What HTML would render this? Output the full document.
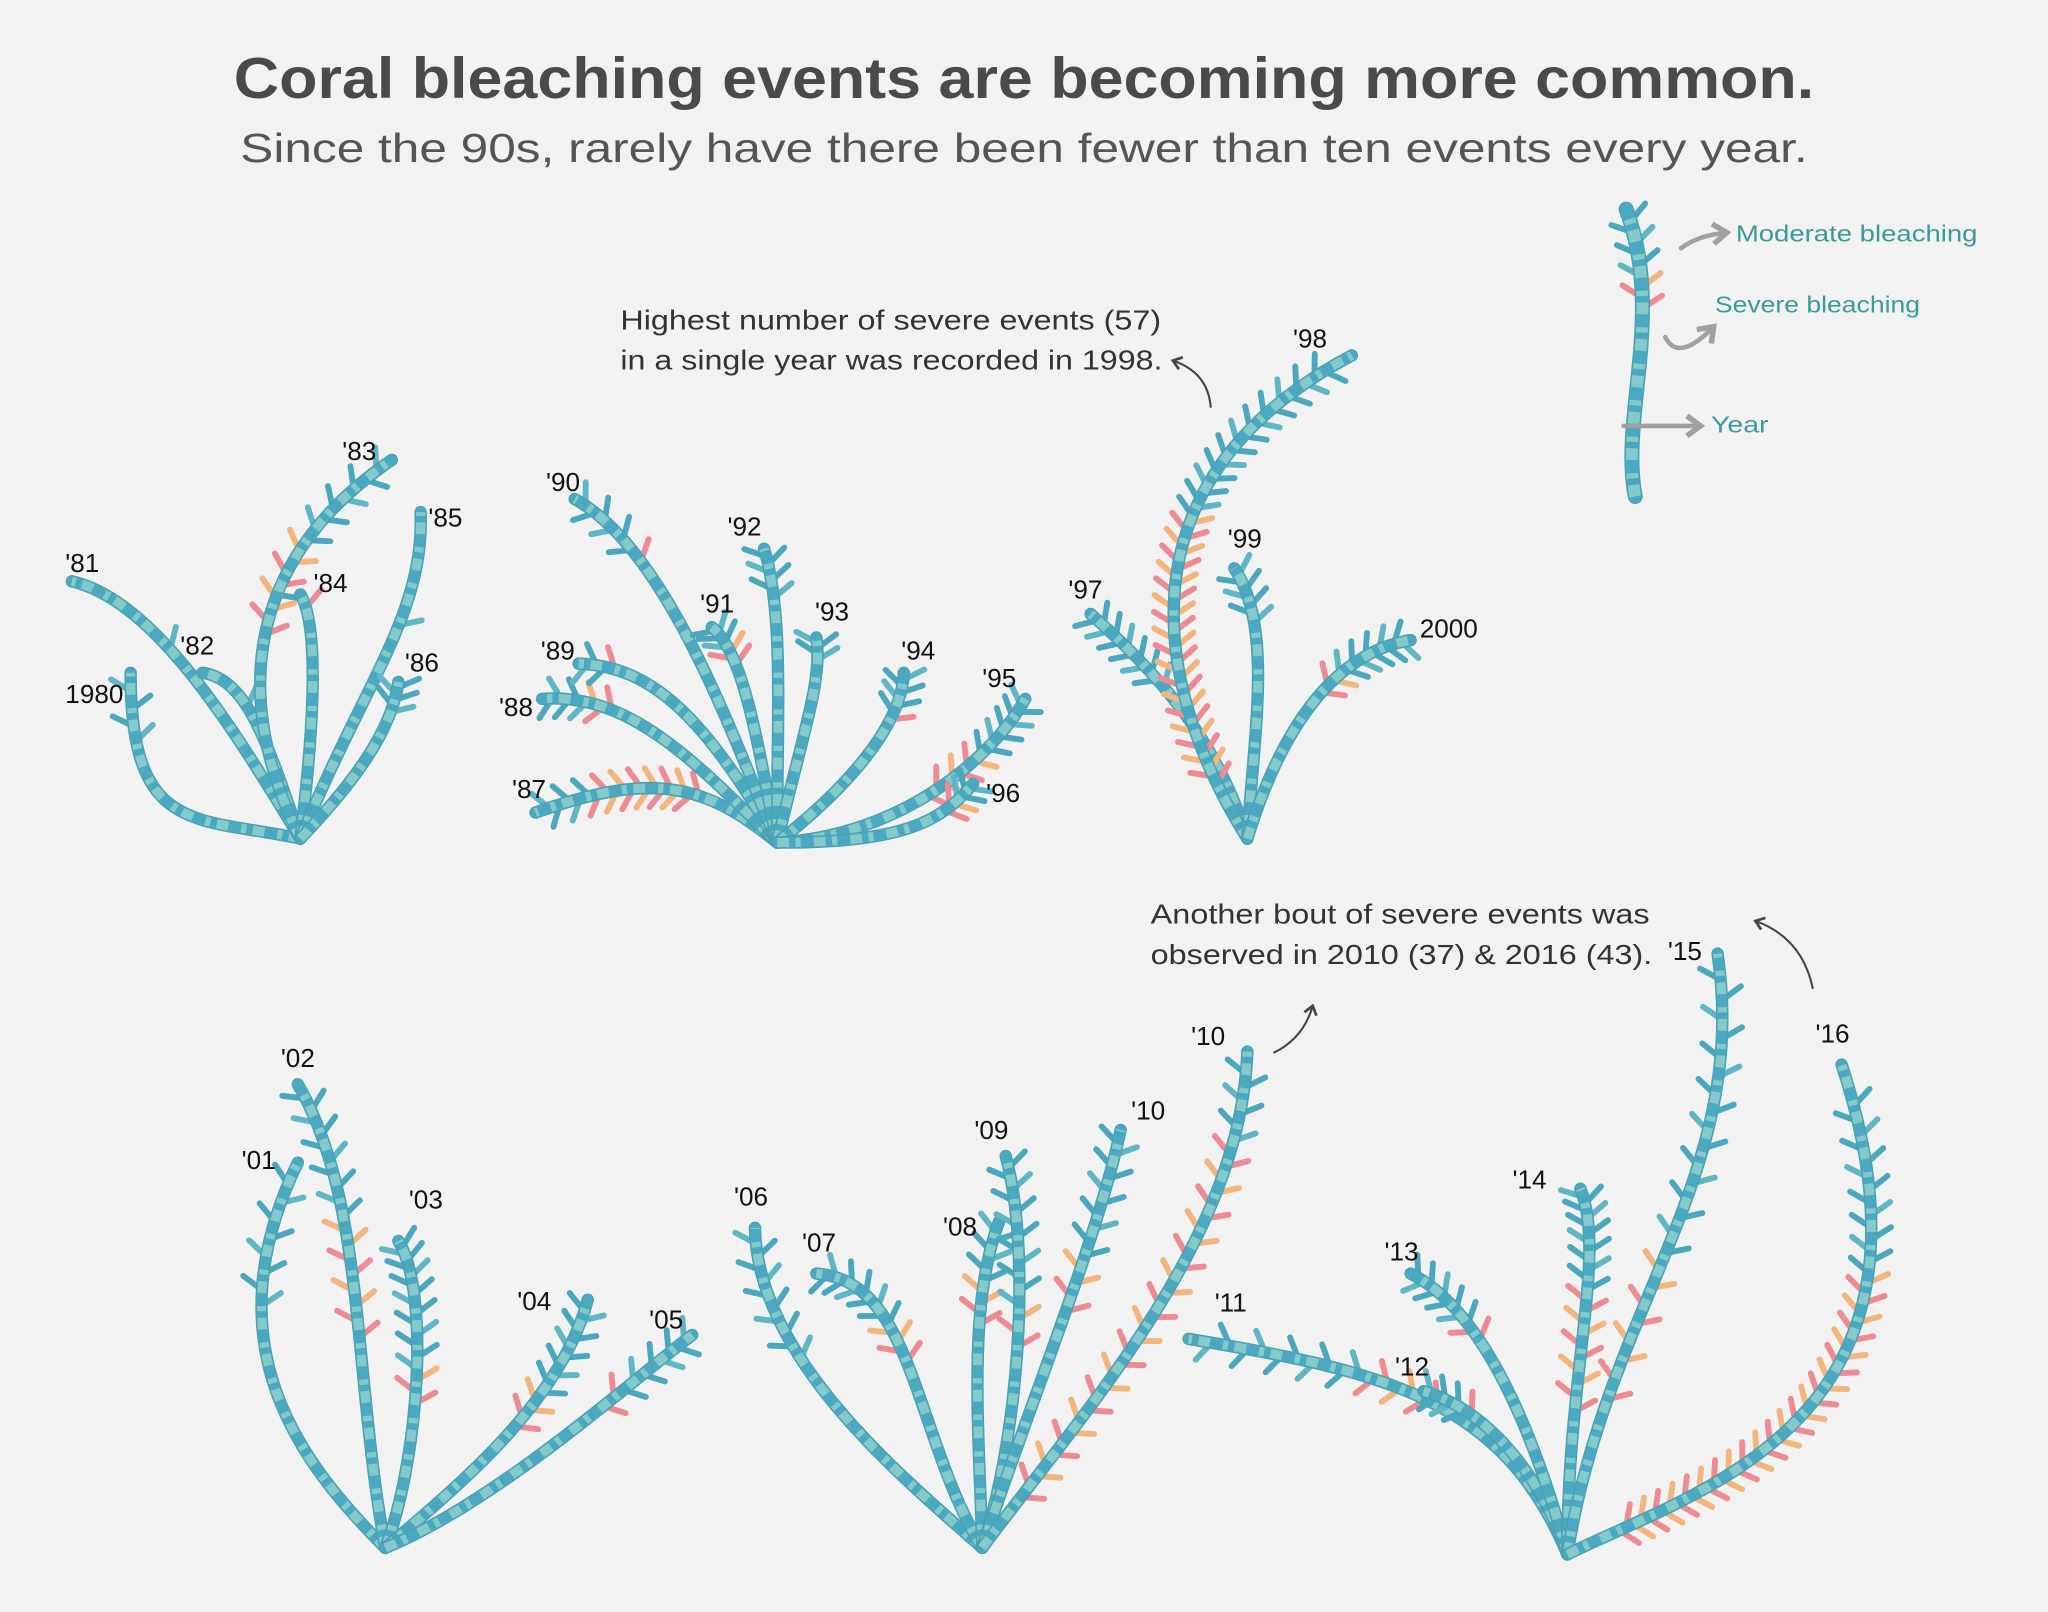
<!DOCTYPE html>
<html><head><meta charset="utf-8"><style>
html,body{margin:0;padding:0;background:#f2f2f2;}
svg{display:block;}
text{font-family:"Liberation Sans",sans-serif;}
</style></head><body>
<svg id="chart" width="2048" height="1612" viewBox="0 0 1568 1234" xmlns="http://www.w3.org/2000/svg">
<defs>
<marker id="ah" markerWidth="8" markerHeight="8" refX="5" refY="4" orient="auto"><path d="M1,1 L5,4 L1,7" fill="none" stroke="#444" stroke-width="1.3"/></marker>
<marker id="ahg" markerWidth="6" markerHeight="6" refX="4" refY="3" orient="auto"><path d="M1,0.8 L4,3 L1,5.2" fill="none" stroke="#a0a0a0" stroke-width="1.2"/></marker>
</defs>
<rect width="1568" height="1234" fill="#f2f2f2"/>
<text x="784" y="75" text-anchor="middle" font-size="44" font-weight="bold" fill="#4a4a4a" textLength="1210" lengthAdjust="spacingAndGlyphs">Coral bleaching events are becoming more common.</text>
<text x="784" y="124" text-anchor="middle" font-size="31" fill="#555" textLength="1200" lengthAdjust="spacingAndGlyphs">Since the 90s, rarely have there been fewer than ten events every year.</text>
<g id="annot">
<text x="475" y="252" font-size="21" fill="#333" textLength="414" lengthAdjust="spacingAndGlyphs">Highest number of severe events (57)</text>
<text x="475" y="283" font-size="21" fill="#333" textLength="415" lengthAdjust="spacingAndGlyphs">in a single year was recorded in 1998.</text>
<path d="M927,312 Q925,285 898,276" fill="none" stroke="#444" stroke-width="1.6" marker-end="url(#ah)"/>
<text x="881" y="707" font-size="21" fill="#333" textLength="382" lengthAdjust="spacingAndGlyphs">Another bout of severe events was</text>
<text x="881" y="738" font-size="21" fill="#333" textLength="384" lengthAdjust="spacingAndGlyphs">observed in 2010 (37) &amp; 2016 (43).</text>
<path d="M975,806 Q998,795 1005,770" fill="none" stroke="#444" stroke-width="1.6" marker-end="url(#ah)"/>
<path d="M1388,757 Q1380,718 1344,705" fill="none" stroke="#444" stroke-width="1.6" marker-end="url(#ah)"/>
</g>
<g id="legend"></g>
<g id="corals"></g>
</svg>
<script>
// ---- data: bleaching events per year ----
const yearLabels = ["1980","'81","'82","'83","'84","'85","'86",
 "'87","'88","'89","'90","'91","'92","'93","'94","'95","'96",
 "'97","'98","'99","2000",
 "'01","'02","'03","'04","'05",
 "'06","'07","'08","'09","'10","'10",
 "'11","'12","'13","'14","'15","'16"];
const moderateEvents = [4,1,1,8,1,1,5, 5,5,3,6,5,6,4,6,9,4, 12,22,7,10, 8,10,14,10,8, 10,10,6,12,10,6, 10,6,9,12,16,14];
const severeEvents   = [0,0,0,8,1,0,0, 14,3,1,1,3,0,0,1,7,3, 0,35,0,3, 0,8,3,4,2, 0,4,4,3,4,30, 6,1,2,10,8,43];

// ---- layout (shape of each branch, not data) ----
const groupBase = [[230,642],[595,645],[955,642],[295,1185],[752,1185],[1200,1190]];
const branchGroup = [0,0,0,0,0,0,0, 1,1,1,1,1,1,1,1,1,1, 2,2,2,2, 3,3,3,3,3, 4,4,4,4,4,4, 5,5,5,5,5,5];
// [c1x,c1y,c2x,c2y,tipx,tipy]
const branchShape = [
 [150,625,100,640,100,515],[180,560,120,460,55,445],[205,570,190,520,155,515],[170,520,200,420,300,352],
 [240,560,245,480,230,455],[280,520,325,470,322,392],[270,600,300,560,305,522],
 [540,600,500,590,410,622],[530,580,480,530,415,535],[540,550,500,510,443,508],[560,560,510,420,440,382],
 [580,570,570,500,545,480],[595,540,600,470,585,420],[615,560,630,520,625,488],[640,610,690,560,692,515],
 [690,640,760,580,785,535],[690,645,720,630,745,600],
 [930,560,880,510,835,470],[885,530,850,370,1035,272],[960,560,975,480,945,435],[980,560,1020,500,1080,490],
 [230,1120,160,1030,228,890],[270,1050,280,920,228,830],[320,1120,330,990,305,950],[360,1130,430,1070,450,995],[380,1150,480,1060,530,1022],
 [690,1130,580,1040,578,940],[700,1100,700,980,625,975],[750,1100,740,1000,765,935],[780,1100,790,960,770,885],[790,1070,840,950,858,865],[830,1080,950,950,955,805],
 [1150,1070,1060,1050,910,1025],[1180,1130,1140,1080,1090,1065],[1170,1080,1130,1000,1080,975],[1200,1050,1230,960,1210,910],[1230,1000,1340,900,1315,730],[1300,1140,1500,1090,1410,815]
];
const labelPos = [[50,538],[50,438],[138,501],[262,352],[240,453],[328,403],[310,514],
 [392,611],[382,548],[414,505],[418,376],[536,469],[557,410],[624,475],[690,505],[752,526],[755,614],
 [818,458],[990,266],[940,419],[1087,488],
 [185,895],[215,817],[313,925],[396,1003],[497,1017],
 [562,923],[614,958],[722,946],[746,872],[866,857],[912,800],
 [930,1004],[1068,1053],[1060,965],[1158,910],[1277,735],[1390,798]];

const NS='http://www.w3.org/2000/svg';
function mk(tag,attrs,parent){const e=document.createElementNS(NS,tag);for(const k in attrs)e.setAttribute(k,attrs[k]);parent.appendChild(e);return e;}
function bez(p,t){const u=1-t;return [u*u*u*p[0]+3*u*u*t*p[2]+3*u*t*t*p[4]+t*t*t*p[6], u*u*u*p[1]+3*u*u*t*p[3]+3*u*t*t*p[5]+t*t*t*p[7]];}
function der(p,t){const u=1-t;return [3*u*u*(p[2]-p[0])+6*u*t*(p[4]-p[2])+3*t*t*(p[6]-p[4]), 3*u*u*(p[3]-p[1])+6*u*t*(p[5]-p[3])+3*t*t*(p[7]-p[5])];}

function drawBranch(parent,P,mod,sev,name,width){
  const g=mk('g',{},parent);
  
  
  const n=mod+sev;
  const t0=Math.max(0.12,0.95-n*0.03);
  for(let i=0;i<n;i++){
    const t=n===1?0.6:t0+(0.96-t0)*i/(n-1);
    const p=bez(P,t),d=der(P,t);const L=Math.hypot(d[0],d[1])||1;const dx=d[0]/L,dy=d[1]/L;
    const side=i%2===0?1:-1;const len=18;
    const ex=p[0]+len*(0.55*dx+0.83*side*-dy), ey=p[1]+len*(0.55*dy+0.83*side*dx);
    const isSev=i<sev;
    const col=isSev?(i%4<2?'#ee8b92':'#f2b57e'):(i%3===0?'#5fb6c4':'#4aa7bd');
    const tk=mk('line',{x1:p[0].toFixed(1),y1:p[1].toFixed(1),x2:ex.toFixed(1),y2:ey.toFixed(1),stroke:col,'stroke-width':4.5,'stroke-linecap':'round'},g);
    
    
  }
  const d=`M${P[0]},${P[1]} C${P[2]},${P[3]} ${P[4]},${P[5]} ${P[6]},${P[7]}`;
  const s0=mk('path',{d:d,fill:'none',stroke:'#4a9fae','stroke-width':width+1.5,'stroke-linecap':'round'},g);
  
  
  const s1=mk('path',{d:d,fill:'none',stroke:'#4aa8c0','stroke-width':width,'stroke-linecap':'round'},g);
  
  
  const s2=mk('path',{d:d,fill:'none',stroke:'#8ed0cd','stroke-width':width-1,'stroke-dasharray':'9 5 4 10','stroke-opacity':0.85},g);
  
  
}

const corals=document.getElementById('corals');
yearLabels.forEach((lab,i)=>{
  const b=groupBase[branchGroup[i]],s=branchShape[i];
  const P=[b[0],b[1],s[0],s[1],s[2],s[3],s[4],s[5]];
  drawBranch(corals,P,moderateEvents[i],severeEvents[i],'branch-'+(i),8);
  const t=mk('text',{x:labelPos[i][0],y:labelPos[i][1],'font-size':20,fill:'#111'},corals);
  
  
  t.textContent=lab;
});

// legend
const lg=document.getElementById('legend');
drawBranch(lg,[1252,380,1240,320,1275,240,1245,160],6,3,'legend-branch',10);
const arrows=[['M1287,190 Q1300,180 1322,178','legend-arrow-moderate'],['M1275,258 Q1285,278 1312,250','legend-arrow-severe'],['M1243,326 L1302,326','legend-arrow-year']];
arrows.forEach(a=>{const p=mk('path',{d:a[0],fill:'none',stroke:'#a0a0a0','stroke-width':3.5,'stroke-linecap':'round','marker-end':'url(#ahg)'},lg);
 
 });
const ltx=[['Moderate bleaching',1329,185,185,'legend-label-moderate'],['Severe bleaching',1313,239,157,'legend-label-severe'],['Year',1310,331,44,'legend-label-year']];
ltx.forEach(a=>{const t=mk('text',{x:a[1],y:a[2],'font-size':18,fill:'#3a9a9a',textLength:a[3],lengthAdjust:'spacingAndGlyphs'},lg);
 
 
 t.textContent=a[0];});
</script>
</body></html>
